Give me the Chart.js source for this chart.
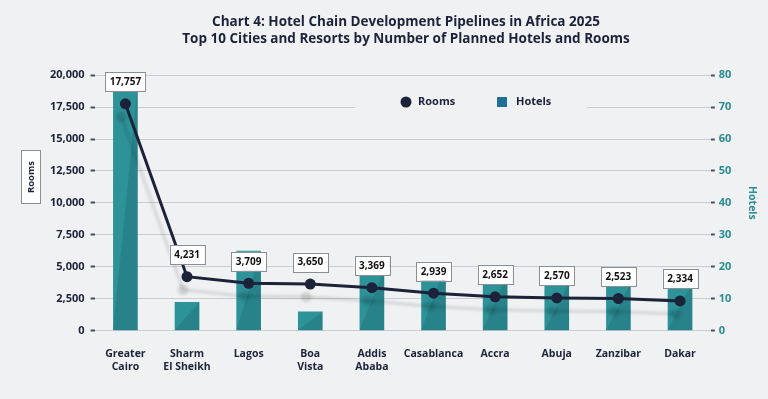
<!DOCTYPE html>
<html>
<head>
<meta charset="utf-8">
<script src="https://cdn.jsdelivr.net/npm/chart.js@4.4.0/dist/chart.umd.min.js"></script>
<style>
  html, body { margin: 0; padding: 0; background: #f0f1f2; }
  #wrap { width: 768px; height: 399px; position: relative; }
</style>
</head>
<body>
<div id="wrap"><canvas id="pipeline"></canvas></div>
<script>
var cities = [['Greater', 'Cairo'], ['Sharm', 'El Sheikh'], 'Lagos', ['Boa', 'Vista'], ['Addis', 'Ababa'],
              'Casablanca', 'Accra', 'Abuja', 'Zanzibar', 'Dakar'];
var rooms = [17757, 4231, 3709, 3650, 3369, 2939, 2652, 2570, 2523, 2334];
var hotels = [77, 9, 25, 6, 19, 21, 18, 15, 15, 15];
var roomTicks = [0, 2500, 5000, 7500, 10000, 12500, 15000, 17500, 20000];
var hotelTicks = [0, 10, 20, 30, 40, 50, 60, 70, 80];

var NAVY = '#1b2239';
var TEAL = '#2e9299';
var FONT = "'Open Sans', sans-serif";

function fmt(v) { return v.toLocaleString('en-US'); }

// grey drop shadow under the rooms line
var lineShadow = {
    id: 'lineShadow',
    beforeDatasetDraw: function (chart, args) {
        if (args.index !== 0) return;
        var c = chart.ctx;
        c.save();
        c.shadowColor = 'rgba(0,0,0,0.12)';
        c.shadowOffsetX = -4;
        c.shadowOffsetY = 13;
        c.shadowBlur = 3;
    },
    afterDatasetDraw: function (chart, args) {
        if (args.index !== 0) return;
        chart.ctx.restore();
    }
};

// darker diagonal half on each bar
var barShade = {
    id: 'barShade',
    afterDatasetDraw: function (chart, args) {
        if (args.index !== 1) return;
        var c = chart.ctx;
        c.save();
        c.fillStyle = 'rgba(10,50,60,0.16)';
        args.meta.data.forEach(function (b) {
            var l = b.x - b.width / 2, r = b.x + b.width / 2;
            c.beginPath();
            c.moveTo(l, b.base);
            c.lineTo(r, b.base);
            c.lineTo(r, b.y);
            c.closePath();
            c.fill();
        });
        c.restore();
    }
};

// legend in the chart area, boxed axis title, value labels
var extras = {
    id: 'extras',
    beforeDatasetsDraw: function (chart) {
        var c = chart.ctx;
        c.save();
        c.fillStyle = '#f0f1f2';
        c.fillRect(355, 93, 232, 18);
        c.font = 'bold 11px ' + FONT;
        c.textBaseline = 'middle';
        c.textAlign = 'left';
        c.fillStyle = NAVY;
        c.beginPath();
        c.arc(406, 102, 5.5, 0, Math.PI * 2);
        c.fill();
        c.fillText(chart.data.datasets[0].label, 418, 102);
        c.fillStyle = '#1f6f96';
        c.fillRect(497, 97, 10, 10);
        c.fillStyle = NAVY;
        c.fillText(chart.data.datasets[1].label, 516, 102);

        // boxed "Rooms" title
        c.fillStyle = '#ffffff';
        c.fillRect(21, 150, 20, 54);
        c.strokeStyle = '#8a8f96';
        c.lineWidth = 1;
        c.strokeRect(21.5, 150.5, 19, 53);
        c.translate(31, 177);
        c.rotate(-Math.PI / 2);
        c.textAlign = 'center';
        c.fillStyle = NAVY;
        c.font = 'bold 9.5px ' + FONT;
        c.fillText('Rooms', 0, 0);
        c.restore();
    },
    afterDatasetsDraw: function (chart) {
        var c = chart.ctx;
        var pts = chart.getDatasetMeta(0).data;
        c.save();
        c.font = 'bold 10px ' + FONT;
        c.textAlign = 'center';
        c.textBaseline = 'middle';
        pts.forEach(function (p, i) {
            var t = fmt(rooms[i]);
            var w = c.measureText(t).width + 9;
            var h = 19;
            var cy = p.y - 22;
            c.fillStyle = '#ffffff';
            c.fillRect(p.x - w / 2, cy - h / 2, w, h);
            c.strokeStyle = '#8a8f96';
            c.lineWidth = 1;
            c.strokeRect(Math.round(p.x - w / 2) + 0.5, Math.round(cy - h / 2) + 0.5, Math.round(w), h);
            c.fillStyle = '#111111';
            c.fillText(t, p.x, cy + 0.5);
        });
        c.restore();
    }
};

new Chart(document.getElementById('pipeline'), {
    type: 'bar',
    data: {
        labels: cities,
        datasets: [{
            type: 'line',
            label: 'Rooms',
            data: rooms,
            yAxisID: 'y',
            borderColor: NAVY,
            backgroundColor: NAVY,
            borderWidth: 3,
            pointRadius: 5.5,
            pointBackgroundColor: NAVY,
            pointBorderWidth: 0,
            tension: 0,
            order: 0
        }, {
            type: 'bar',
            label: 'Hotels',
            data: hotels,
            yAxisID: 'y1',
            backgroundColor: TEAL,
            borderWidth: 0,
            barPercentage: 0.4,
            categoryPercentage: 1,
            order: 1
        }]
    },
    options: {
        responsive: true,
        maintainAspectRatio: false,
        animation: false,
        layout: { padding: { left: 44, right: 0, top: 4, bottom: 16 } },
        plugins: {
            legend: { display: false },
            tooltip: { enabled: false },
            title: {
                display: true,
                text: ['Chart 4: Hotel Chain Development Pipelines in Africa 2025',
                       'Top 10 Cities and Resorts by Number of Planned Hotels and Rooms'],
                color: NAVY,
                font: { family: FONT, size: 13.5, weight: 'bold', lineHeight: 1.3 },
                padding: { top: 9, bottom: 27 }
            }
        },
        scales: {
            x: {
                grid: { display: false },
                border: { display: false },
                ticks: {
                    color: NAVY,
                    padding: 9,
                    maxRotation: 0,
                    autoSkip: false,
                    font: { family: FONT, size: 10.5, weight: 'bold', lineHeight: 1.25 }
                }
            },
            y: {
                position: 'left',
                min: 0,
                max: roomTicks[roomTicks.length - 1],
                afterBuildTicks: function (axis) {
                    axis.ticks = roomTicks.map(function (v) { return { value: v }; });
                },
                border: { display: false },
                grid: { color: '#c9cdd1', lineWidth: 1, tickLength: 4, tickColor: '#4a5060', tickWidth: 2 },
                ticks: {
                    color: NAVY,
                    padding: 6,
                    font: { family: FONT, size: 11, weight: 'bold' },
                    callback: function (v) { return fmt(v); }
                }
            },
            y1: {
                position: 'right',
                min: 0,
                max: hotelTicks[hotelTicks.length - 1],
                afterBuildTicks: function (axis) {
                    axis.ticks = hotelTicks.map(function (v) { return { value: v }; });
                },
                border: { display: false },
                grid: { drawOnChartArea: false, tickLength: 4, tickColor: '#4a5060', tickWidth: 2 },
                ticks: {
                    color: '#2a8c93',
                    padding: 4,
                    font: { family: FONT, size: 11, weight: 'bold' }
                },
                title: {
                    display: true,
                    text: 'Hotels',
                    color: '#2a8c93',
                    font: { family: FONT, size: 10.5, weight: 'bold' },
                    padding: { top: 10, bottom: 10 }
                }
            }
        }
    },
    plugins: [lineShadow, barShade, extras]
});
</script>
</body>
</html>
